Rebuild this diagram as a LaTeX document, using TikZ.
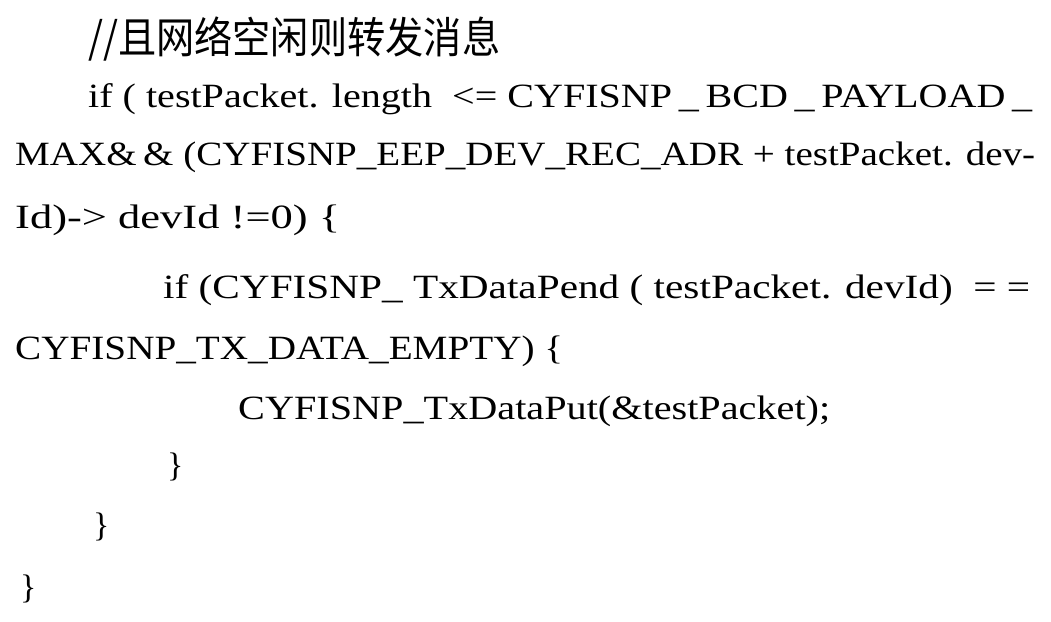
\documentclass[tikz,border=0pt]{standalone}
\usepackage{fontspec}
\usepackage{graphicx}
\setmainfont{Liberation Serif}
\newfontfamily\cjk{Noto Sans CJK SC}
\usepackage{tikz}
\newcommand{\codefit}[2]{\resizebox{#1pt}{\height}{#2}}

\begin{document}
\begin{tikzpicture}[x=1pt,y=-1pt]
\tikzstyle{codeline} =[anchor=base west, inner sep=0pt, font=\fontsize{34}{34}\selectfont]

\fill[white] (0,0) rectangle (1051,621);

\node[codeline](l1) at (88,53){\codefit{412}{{\fontsize{43}{43}\cjk //且网络空闲则转发消息}}};
\node[codeline](l2) at (88,107){\codefit{944}{if ( testPacket. length~~<= CYFISNP\,\_\,BCD\,\_\,PAYLOAD\,\_}};
\node[codeline](l3) at (15,165){\codefit{1020}{MAX\&\,\& (CYFISNP\_EEP\_DEV\_REC\_ADR + testPacket. dev-}};
\node[codeline](l4) at (15,228){\codefit{325}{Id)-> devId !=0) \{}};
\node[codeline](l5) at (163,298){\codefit{867}{if (CYFISNP\_ TxDataPend ( testPacket. devId)~ = =}};
\node[codeline](l6) at (15,359){\codefit{548}{CYFISNP\_TX\_DATA\_EMPTY) \{}};
\node[codeline](l7) at (238,419){\codefit{592}{CYFISNP\_TxDataPut(\&testPacket);}};
\node[codeline](l8) at (167,476){\}};
\node[codeline](l9) at (93,536){\}};
\node[codeline](l10) at (20,598){\}};
\end{tikzpicture}
\end{document}
